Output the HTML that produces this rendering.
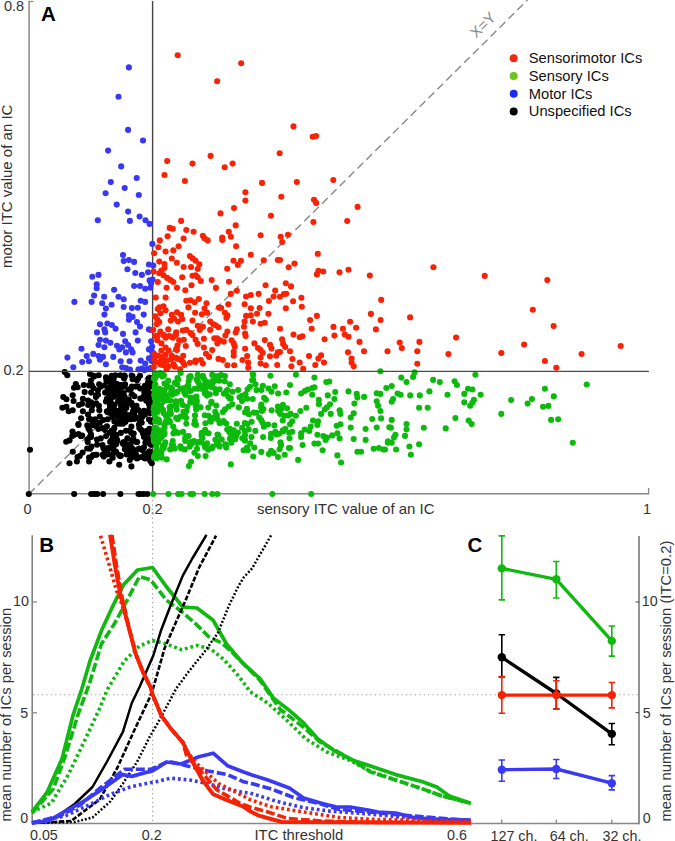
<!DOCTYPE html>
<html><head><meta charset="utf-8">
<style>
html,body{margin:0;padding:0;background:#fff;}
body{width:675px;height:841px;overflow:hidden;}
svg{display:block;font-family:"Liberation Sans",sans-serif;}
</style></head>
<body>
<svg width="675" height="841" viewBox="0 0 675 841">
<rect width="675" height="841" fill="#fff"/>
<g id="A-axes">
<line x1="29.1" y1="1.5" x2="29.1" y2="494" stroke="#888" stroke-width="1.5"/>
<line x1="28.4" y1="1.5" x2="33.5" y2="1.5" stroke="#888" stroke-width="1.3"/>
<line x1="28.4" y1="493.8" x2="648.6" y2="493.8" stroke="#888" stroke-width="1.5"/>
<line x1="648.6" y1="488" x2="648.6" y2="494.5" stroke="#888" stroke-width="1.3"/>
<line x1="29" y1="494" x2="527.5" y2="0" stroke="#888" stroke-width="1.4" stroke-dasharray="8,4.5"/>
</g>
<line x1="152.6" y1="1" x2="152.6" y2="494" stroke="#444" stroke-width="1.4"/>
<g id="scatter">
<g fill="#000"><circle cx="64.7" cy="372.1" r="3.05"/><circle cx="67.3" cy="375.2" r="3.05"/><circle cx="90.0" cy="373.9" r="3.05"/><circle cx="93.6" cy="375.7" r="3.05"/><circle cx="106.0" cy="377.4" r="3.05"/><circle cx="108.2" cy="379.7" r="3.05"/><circle cx="90.9" cy="380.6" r="3.05"/><circle cx="75.8" cy="384.1" r="3.05"/><circle cx="74.0" cy="387.7" r="3.05"/><circle cx="77.6" cy="387.2" r="3.05"/><circle cx="83.8" cy="385.0" r="3.05"/><circle cx="89.1" cy="385.4" r="3.05"/><circle cx="91.8" cy="385.4" r="3.05"/><circle cx="100.7" cy="386.8" r="3.05"/><circle cx="104.7" cy="385.4" r="3.05"/><circle cx="84.7" cy="392.1" r="3.05"/><circle cx="98.0" cy="394.8" r="3.05"/><circle cx="105.1" cy="392.6" r="3.05"/><circle cx="109.1" cy="394.3" r="3.05"/><circle cx="72.7" cy="395.2" r="3.05"/><circle cx="63.3" cy="397.0" r="3.05"/><circle cx="66.4" cy="399.2" r="3.05"/><circle cx="73.6" cy="401.0" r="3.05"/><circle cx="82.9" cy="398.8" r="3.05"/><circle cx="78.9" cy="405.0" r="3.05"/><circle cx="82.0" cy="403.7" r="3.05"/><circle cx="88.2" cy="405.0" r="3.05"/><circle cx="96.2" cy="403.2" r="3.05"/><circle cx="98.9" cy="405.9" r="3.05"/><circle cx="62.4" cy="407.7" r="3.05"/><circle cx="66.4" cy="406.8" r="3.05"/><circle cx="68.7" cy="411.2" r="3.05"/><circle cx="72.7" cy="410.3" r="3.05"/><circle cx="82.9" cy="411.2" r="3.05"/><circle cx="91.8" cy="410.3" r="3.05"/><circle cx="99.3" cy="410.3" r="3.05"/><circle cx="106.9" cy="411.2" r="3.05"/><circle cx="106.9" cy="398.8" r="3.05"/><circle cx="81.1" cy="418.3" r="3.05"/><circle cx="78.4" cy="424.1" r="3.05"/><circle cx="89.1" cy="419.2" r="3.05"/><circle cx="92.7" cy="421.9" r="3.05"/><circle cx="99.8" cy="416.6" r="3.05"/><circle cx="103.3" cy="420.1" r="3.05"/><circle cx="107.8" cy="419.2" r="3.05"/><circle cx="87.3" cy="425.4" r="3.05"/><circle cx="96.2" cy="426.3" r="3.05"/><circle cx="106.9" cy="426.3" r="3.05"/><circle cx="99.8" cy="422.8" r="3.05"/><circle cx="69.5" cy="463.2" r="3.05"/><circle cx="76.9" cy="461.5" r="3.05"/><circle cx="89.1" cy="461.5" r="3.05"/><circle cx="109.4" cy="461.5" r="3.05"/><circle cx="119.2" cy="464.8" r="3.05"/><circle cx="131.4" cy="466.4" r="3.05"/><circle cx="129.8" cy="459.9" r="3.05"/><circle cx="138.0" cy="457.5" r="3.05"/><circle cx="150.2" cy="460.7" r="3.05"/><circle cx="151.8" cy="463.2" r="3.05"/><circle cx="72.8" cy="451.8" r="3.05"/><circle cx="69.5" cy="440.4" r="3.05"/><circle cx="74.4" cy="434.7" r="3.05"/><circle cx="93.2" cy="455.0" r="3.05"/><circle cx="89.1" cy="457.5" r="3.05"/><circle cx="82.6" cy="452.6" r="3.05"/><circle cx="78.5" cy="424.9" r="3.05"/><circle cx="28.8" cy="494.0" r="3.05"/><circle cx="74.2" cy="494.0" r="3.05"/><circle cx="91.2" cy="494.0" r="3.05"/><circle cx="94.2" cy="494.0" r="3.05"/><circle cx="97.3" cy="494.0" r="3.05"/><circle cx="103.1" cy="494.0" r="3.05"/><circle cx="120.4" cy="494.0" r="3.05"/><circle cx="138.5" cy="494.0" r="3.05"/><circle cx="140.4" cy="494.0" r="3.05"/><circle cx="143.5" cy="494.0" r="3.05"/><circle cx="147.3" cy="494.0" r="3.05"/><circle cx="30.0" cy="449.8" r="3.05"/><circle cx="123.4" cy="386.8" r="3.05"/><circle cx="137.0" cy="380.2" r="3.05"/><circle cx="132.2" cy="405.1" r="3.05"/><circle cx="112.4" cy="417.1" r="3.05"/><circle cx="111.6" cy="410.9" r="3.05"/><circle cx="112.9" cy="381.7" r="3.05"/><circle cx="127.6" cy="444.3" r="3.05"/><circle cx="115.1" cy="393.0" r="3.05"/><circle cx="136.0" cy="454.6" r="3.05"/><circle cx="133.9" cy="407.7" r="3.05"/><circle cx="150.5" cy="378.0" r="3.05"/><circle cx="145.6" cy="398.6" r="3.05"/><circle cx="116.0" cy="384.0" r="3.05"/><circle cx="122.8" cy="443.4" r="3.05"/><circle cx="117.5" cy="423.4" r="3.05"/><circle cx="136.5" cy="405.7" r="3.05"/><circle cx="132.7" cy="379.3" r="3.05"/><circle cx="112.5" cy="391.5" r="3.05"/><circle cx="138.2" cy="410.3" r="3.05"/><circle cx="123.0" cy="423.8" r="3.05"/><circle cx="128.8" cy="399.5" r="3.05"/><circle cx="143.0" cy="433.4" r="3.05"/><circle cx="120.1" cy="422.8" r="3.05"/><circle cx="131.8" cy="448.4" r="3.05"/><circle cx="140.3" cy="398.5" r="3.05"/><circle cx="150.7" cy="384.0" r="3.05"/><circle cx="127.4" cy="438.4" r="3.05"/><circle cx="116.3" cy="415.6" r="3.05"/><circle cx="111.6" cy="430.8" r="3.05"/><circle cx="141.7" cy="422.7" r="3.05"/><circle cx="146.3" cy="400.7" r="3.05"/><circle cx="138.9" cy="424.5" r="3.05"/><circle cx="134.1" cy="412.8" r="3.05"/><circle cx="144.9" cy="454.3" r="3.05"/><circle cx="129.7" cy="430.5" r="3.05"/><circle cx="112.5" cy="433.6" r="3.05"/><circle cx="136.9" cy="458.4" r="3.05"/><circle cx="144.1" cy="398.2" r="3.05"/><circle cx="126.0" cy="430.8" r="3.05"/><circle cx="110.9" cy="413.2" r="3.05"/><circle cx="117.0" cy="384.0" r="3.05"/><circle cx="112.4" cy="439.3" r="3.05"/><circle cx="115.4" cy="395.0" r="3.05"/><circle cx="126.2" cy="448.1" r="3.05"/><circle cx="113.3" cy="412.2" r="3.05"/><circle cx="132.8" cy="449.1" r="3.05"/><circle cx="144.0" cy="447.4" r="3.05"/><circle cx="121.6" cy="409.3" r="3.05"/><circle cx="124.9" cy="449.2" r="3.05"/><circle cx="149.7" cy="386.8" r="3.05"/><circle cx="117.3" cy="393.7" r="3.05"/><circle cx="119.7" cy="415.2" r="3.05"/><circle cx="134.4" cy="396.3" r="3.05"/><circle cx="110.2" cy="409.6" r="3.05"/><circle cx="125.3" cy="422.1" r="3.05"/><circle cx="149.6" cy="432.7" r="3.05"/><circle cx="131.4" cy="426.5" r="3.05"/><circle cx="138.1" cy="378.6" r="3.05"/><circle cx="147.3" cy="440.3" r="3.05"/><circle cx="146.3" cy="441.8" r="3.05"/><circle cx="126.3" cy="407.9" r="3.05"/><circle cx="114.3" cy="427.9" r="3.05"/><circle cx="112.6" cy="379.7" r="3.05"/><circle cx="118.7" cy="387.8" r="3.05"/><circle cx="124.1" cy="378.5" r="3.05"/><circle cx="110.0" cy="386.9" r="3.05"/><circle cx="114.2" cy="404.9" r="3.05"/><circle cx="111.1" cy="448.3" r="3.05"/><circle cx="135.5" cy="386.6" r="3.05"/><circle cx="120.5" cy="403.5" r="3.05"/><circle cx="125.1" cy="384.4" r="3.05"/><circle cx="145.2" cy="458.4" r="3.05"/><circle cx="129.3" cy="415.1" r="3.05"/><circle cx="113.6" cy="382.7" r="3.05"/><circle cx="124.2" cy="396.5" r="3.05"/><circle cx="144.4" cy="387.7" r="3.05"/><circle cx="111.0" cy="454.8" r="3.05"/><circle cx="131.9" cy="386.5" r="3.05"/><circle cx="132.5" cy="376.3" r="3.05"/><circle cx="131.9" cy="457.2" r="3.05"/><circle cx="145.8" cy="433.2" r="3.05"/><circle cx="120.8" cy="405.2" r="3.05"/><circle cx="116.9" cy="439.6" r="3.05"/><circle cx="132.1" cy="440.2" r="3.05"/><circle cx="123.7" cy="393.0" r="3.05"/><circle cx="143.7" cy="457.7" r="3.05"/><circle cx="145.4" cy="442.5" r="3.05"/><circle cx="144.0" cy="436.9" r="3.05"/><circle cx="119.4" cy="418.0" r="3.05"/><circle cx="124.8" cy="376.5" r="3.05"/><circle cx="111.2" cy="397.8" r="3.05"/><circle cx="120.8" cy="432.9" r="3.05"/><circle cx="149.7" cy="412.0" r="3.05"/><circle cx="148.9" cy="458.0" r="3.05"/><circle cx="149.6" cy="405.0" r="3.05"/><circle cx="119.1" cy="393.3" r="3.05"/><circle cx="118.2" cy="391.4" r="3.05"/><circle cx="135.9" cy="450.5" r="3.05"/><circle cx="144.9" cy="414.8" r="3.05"/><circle cx="137.1" cy="442.0" r="3.05"/><circle cx="113.5" cy="430.1" r="3.05"/><circle cx="147.8" cy="440.5" r="3.05"/><circle cx="141.1" cy="414.6" r="3.05"/><circle cx="117.4" cy="441.1" r="3.05"/><circle cx="123.8" cy="442.1" r="3.05"/><circle cx="150.3" cy="407.6" r="3.05"/><circle cx="126.7" cy="454.5" r="3.05"/><circle cx="140.1" cy="388.5" r="3.05"/><circle cx="115.3" cy="386.8" r="3.05"/><circle cx="147.6" cy="442.6" r="3.05"/><circle cx="116.1" cy="444.3" r="3.05"/><circle cx="150.7" cy="429.9" r="3.05"/><circle cx="124.5" cy="420.6" r="3.05"/><circle cx="115.4" cy="375.2" r="3.05"/><circle cx="150.3" cy="429.2" r="3.05"/><circle cx="131.9" cy="453.4" r="3.05"/><circle cx="128.0" cy="448.1" r="3.05"/><circle cx="144.3" cy="391.9" r="3.05"/><circle cx="120.5" cy="398.9" r="3.05"/><circle cx="120.0" cy="423.8" r="3.05"/><circle cx="120.8" cy="409.6" r="3.05"/><circle cx="115.4" cy="451.4" r="3.05"/><circle cx="124.7" cy="412.9" r="3.05"/><circle cx="134.2" cy="450.9" r="3.05"/><circle cx="127.5" cy="452.0" r="3.05"/><circle cx="130.8" cy="419.2" r="3.05"/><circle cx="131.7" cy="375.6" r="3.05"/><circle cx="128.3" cy="389.6" r="3.05"/><circle cx="110.2" cy="441.9" r="3.05"/><circle cx="117.2" cy="414.2" r="3.05"/><circle cx="140.1" cy="421.3" r="3.05"/><circle cx="123.5" cy="418.1" r="3.05"/><circle cx="133.1" cy="440.7" r="3.05"/><circle cx="114.4" cy="421.6" r="3.05"/><circle cx="120.3" cy="397.5" r="3.05"/><circle cx="142.0" cy="417.2" r="3.05"/><circle cx="133.3" cy="438.6" r="3.05"/><circle cx="147.9" cy="411.7" r="3.05"/><circle cx="135.4" cy="417.0" r="3.05"/><circle cx="131.3" cy="432.9" r="3.05"/><circle cx="128.8" cy="419.3" r="3.05"/><circle cx="129.8" cy="454.0" r="3.05"/><circle cx="139.0" cy="448.5" r="3.05"/><circle cx="149.1" cy="396.1" r="3.05"/><circle cx="133.2" cy="454.2" r="3.05"/><circle cx="144.9" cy="385.7" r="3.05"/><circle cx="115.0" cy="411.6" r="3.05"/><circle cx="113.0" cy="394.5" r="3.05"/><circle cx="113.0" cy="430.9" r="3.05"/><circle cx="142.5" cy="450.2" r="3.05"/><circle cx="116.4" cy="434.9" r="3.05"/><circle cx="137.4" cy="386.2" r="3.05"/><circle cx="146.6" cy="456.2" r="3.05"/><circle cx="119.1" cy="455.0" r="3.05"/><circle cx="126.5" cy="415.4" r="3.05"/><circle cx="151.1" cy="444.8" r="3.05"/><circle cx="116.7" cy="410.7" r="3.05"/><circle cx="131.4" cy="402.8" r="3.05"/><circle cx="118.1" cy="401.1" r="3.05"/><circle cx="140.0" cy="375.7" r="3.05"/><circle cx="133.0" cy="411.4" r="3.05"/><circle cx="110.8" cy="402.2" r="3.05"/><circle cx="135.9" cy="417.5" r="3.05"/><circle cx="112.7" cy="457.7" r="3.05"/><circle cx="142.7" cy="456.6" r="3.05"/><circle cx="114.3" cy="396.6" r="3.05"/><circle cx="111.6" cy="440.2" r="3.05"/><circle cx="121.2" cy="385.0" r="3.05"/><circle cx="127.5" cy="451.5" r="3.05"/><circle cx="144.0" cy="396.0" r="3.05"/><circle cx="116.2" cy="452.1" r="3.05"/><circle cx="133.7" cy="433.5" r="3.05"/><circle cx="113.7" cy="378.9" r="3.05"/><circle cx="138.6" cy="410.2" r="3.05"/><circle cx="113.0" cy="453.8" r="3.05"/><circle cx="136.3" cy="442.1" r="3.05"/><circle cx="113.5" cy="446.8" r="3.05"/><circle cx="112.8" cy="447.3" r="3.05"/><circle cx="128.8" cy="402.8" r="3.05"/><circle cx="133.0" cy="452.8" r="3.05"/><circle cx="121.1" cy="385.0" r="3.05"/><circle cx="131.9" cy="394.3" r="3.05"/><circle cx="114.5" cy="387.7" r="3.05"/><circle cx="112.1" cy="391.2" r="3.05"/><circle cx="122.9" cy="399.9" r="3.05"/><circle cx="141.5" cy="398.6" r="3.05"/><circle cx="130.8" cy="389.1" r="3.05"/><circle cx="124.4" cy="375.5" r="3.05"/><circle cx="120.4" cy="375.3" r="3.05"/><circle cx="140.4" cy="420.8" r="3.05"/><circle cx="117.9" cy="414.4" r="3.05"/><circle cx="148.8" cy="383.0" r="3.05"/><circle cx="144.0" cy="410.7" r="3.05"/><circle cx="130.5" cy="444.9" r="3.05"/><circle cx="126.3" cy="417.1" r="3.05"/><circle cx="138.5" cy="457.5" r="3.05"/><circle cx="124.2" cy="444.7" r="3.05"/><circle cx="139.3" cy="428.1" r="3.05"/><circle cx="126.8" cy="403.5" r="3.05"/><circle cx="112.3" cy="385.0" r="3.05"/><circle cx="112.9" cy="437.0" r="3.05"/><circle cx="120.6" cy="387.9" r="3.05"/><circle cx="113.5" cy="445.5" r="3.05"/><circle cx="146.1" cy="431.0" r="3.05"/><circle cx="121.7" cy="394.6" r="3.05"/><circle cx="122.2" cy="413.1" r="3.05"/><circle cx="116.5" cy="411.9" r="3.05"/><circle cx="120.9" cy="455.8" r="3.05"/><circle cx="150.4" cy="420.5" r="3.05"/><circle cx="120.1" cy="456.1" r="3.05"/><circle cx="122.8" cy="404.3" r="3.05"/><circle cx="110.0" cy="406.4" r="3.05"/><circle cx="129.7" cy="416.7" r="3.05"/><circle cx="118.3" cy="416.9" r="3.05"/><circle cx="110.2" cy="396.5" r="3.05"/><circle cx="113.7" cy="408.0" r="3.05"/><circle cx="111.7" cy="375.9" r="3.05"/><circle cx="122.6" cy="393.8" r="3.05"/><circle cx="134.3" cy="419.0" r="3.05"/><circle cx="141.1" cy="429.9" r="3.05"/><circle cx="139.7" cy="448.7" r="3.05"/><circle cx="100.8" cy="438.4" r="3.05"/><circle cx="109.8" cy="432.8" r="3.05"/><circle cx="105.9" cy="448.6" r="3.05"/><circle cx="95.7" cy="454.7" r="3.05"/><circle cx="108.4" cy="448.1" r="3.05"/><circle cx="106.0" cy="454.0" r="3.05"/><circle cx="97.1" cy="444.8" r="3.05"/><circle cx="102.6" cy="454.7" r="3.05"/><circle cx="107.1" cy="454.4" r="3.05"/><circle cx="103.8" cy="456.6" r="3.05"/><circle cx="105.2" cy="450.2" r="3.05"/><circle cx="98.4" cy="429.0" r="3.05"/><circle cx="97.0" cy="439.5" r="3.05"/><circle cx="96.6" cy="454.7" r="3.05"/><circle cx="103.4" cy="448.1" r="3.05"/><circle cx="104.4" cy="449.8" r="3.05"/><circle cx="102.3" cy="428.1" r="3.05"/><circle cx="107.0" cy="451.9" r="3.05"/><circle cx="102.5" cy="445.1" r="3.05"/><circle cx="104.9" cy="430.1" r="3.05"/><circle cx="106.1" cy="436.1" r="3.05"/><circle cx="81.1" cy="436.0" r="3.05"/><circle cx="90.9" cy="434.2" r="3.05"/><circle cx="91.1" cy="457.3" r="3.05"/><circle cx="87.4" cy="439.5" r="3.05"/><circle cx="87.2" cy="448.5" r="3.05"/><circle cx="91.5" cy="446.5" r="3.05"/><circle cx="89.6" cy="430.3" r="3.05"/><circle cx="82.2" cy="435.6" r="3.05"/><circle cx="91.1" cy="437.1" r="3.05"/><circle cx="88.5" cy="428.4" r="3.05"/><circle cx="80.9" cy="436.1" r="3.05"/><circle cx="90.1" cy="448.8" r="3.05"/><circle cx="90.1" cy="436.7" r="3.05"/><circle cx="87.7" cy="441.9" r="3.05"/><circle cx="72.5" cy="431.6" r="3.05"/><circle cx="78.5" cy="434.0" r="3.05"/><circle cx="79.7" cy="456.1" r="3.05"/><circle cx="66.2" cy="441.8" r="3.05"/><circle cx="77.5" cy="457.0" r="3.05"/><circle cx="72.3" cy="436.1" r="3.05"/><circle cx="92.6" cy="425.1" r="3.05"/><circle cx="92.6" cy="405.4" r="3.05"/><circle cx="91.1" cy="402.3" r="3.05"/><circle cx="109.0" cy="381.2" r="3.05"/><circle cx="106.0" cy="401.5" r="3.05"/><circle cx="107.5" cy="412.0" r="3.05"/><circle cx="93.1" cy="422.5" r="3.05"/><circle cx="98.7" cy="375.3" r="3.05"/><circle cx="88.1" cy="400.6" r="3.05"/><circle cx="97.9" cy="390.3" r="3.05"/><circle cx="91.1" cy="392.6" r="3.05"/><circle cx="95.0" cy="419.4" r="3.05"/><circle cx="88.0" cy="414.5" r="3.05"/><circle cx="106.5" cy="380.5" r="3.05"/><circle cx="108.4" cy="412.5" r="3.05"/><circle cx="107.8" cy="389.7" r="3.05"/><circle cx="96.2" cy="395.2" r="3.05"/><circle cx="110.0" cy="405.8" r="3.05"/><circle cx="95.9" cy="397.1" r="3.05"/><circle cx="94.1" cy="376.6" r="3.05"/><circle cx="90.2" cy="419.1" r="3.05"/><circle cx="94.3" cy="424.5" r="3.05"/><circle cx="93.5" cy="388.3" r="3.05"/><circle cx="99.2" cy="384.3" r="3.05"/><circle cx="148.9" cy="457.2" r="3.05"/><circle cx="150.8" cy="444.6" r="3.05"/><circle cx="149.8" cy="453.5" r="3.05"/><circle cx="151.0" cy="421.8" r="3.05"/><circle cx="150.2" cy="378.3" r="3.05"/><circle cx="150.2" cy="413.2" r="3.05"/><circle cx="150.3" cy="430.1" r="3.05"/><circle cx="148.6" cy="378.3" r="3.05"/><circle cx="150.9" cy="385.1" r="3.05"/><circle cx="149.2" cy="403.9" r="3.05"/><circle cx="148.6" cy="438.3" r="3.05"/><circle cx="151.1" cy="396.6" r="3.05"/><circle cx="149.9" cy="400.2" r="3.05"/><circle cx="149.6" cy="408.3" r="3.05"/><circle cx="148.1" cy="388.1" r="3.05"/><circle cx="148.3" cy="452.8" r="3.05"/><circle cx="149.3" cy="393.1" r="3.05"/><circle cx="150.9" cy="460.7" r="3.05"/><circle cx="149.2" cy="386.1" r="3.05"/><circle cx="148.2" cy="381.9" r="3.05"/><circle cx="148.8" cy="381.9" r="3.05"/><circle cx="148.4" cy="396.5" r="3.05"/><circle cx="149.6" cy="451.2" r="3.05"/><circle cx="150.3" cy="409.9" r="3.05"/><circle cx="149.0" cy="419.6" r="3.05"/><circle cx="148.9" cy="403.4" r="3.05"/><circle cx="147.7" cy="398.1" r="3.05"/><circle cx="151.1" cy="385.0" r="3.05"/><circle cx="149.4" cy="428.8" r="3.05"/></g>
<g fill="#3838f4"><circle cx="128.9" cy="67.4" r="3.05"/><circle cx="118.5" cy="96.7" r="3.05"/><circle cx="128.1" cy="129.9" r="3.05"/><circle cx="143.0" cy="140.5" r="3.05"/><circle cx="108.1" cy="150.6" r="3.05"/><circle cx="121.2" cy="166.4" r="3.05"/><circle cx="136.7" cy="178.0" r="3.05"/><circle cx="110.8" cy="182.1" r="3.05"/><circle cx="124.7" cy="188.0" r="3.05"/><circle cx="105.6" cy="193.2" r="3.05"/><circle cx="138.8" cy="195.0" r="3.05"/><circle cx="116.7" cy="204.6" r="3.05"/><circle cx="128.1" cy="211.6" r="3.05"/><circle cx="97.8" cy="220.2" r="3.05"/><circle cx="129.9" cy="220.9" r="3.05"/><circle cx="139.6" cy="216.5" r="3.05"/><circle cx="145.5" cy="220.2" r="3.05"/><circle cx="149.6" cy="223.9" r="3.05"/><circle cx="152.3" cy="243.9" r="3.05"/><circle cx="123.0" cy="255.0" r="3.05"/><circle cx="123.7" cy="261.1" r="3.05"/><circle cx="128.9" cy="260.1" r="3.05"/><circle cx="134.1" cy="261.9" r="3.05"/><circle cx="148.9" cy="264.5" r="3.05"/><circle cx="153.3" cy="265.6" r="3.05"/><circle cx="127.4" cy="269.3" r="3.05"/><circle cx="135.3" cy="273.0" r="3.05"/><circle cx="141.9" cy="274.9" r="3.05"/><circle cx="148.1" cy="272.2" r="3.05"/><circle cx="92.3" cy="276.7" r="3.05"/><circle cx="98.5" cy="274.9" r="3.05"/><circle cx="149.6" cy="280.4" r="3.05"/><circle cx="152.6" cy="279.6" r="3.05"/><circle cx="151.1" cy="283.3" r="3.05"/><circle cx="96.7" cy="284.4" r="3.05"/><circle cx="96.7" cy="288.2" r="3.05"/><circle cx="134.1" cy="286.0" r="3.05"/><circle cx="140.0" cy="286.0" r="3.05"/><circle cx="145.2" cy="288.8" r="3.05"/><circle cx="150.4" cy="287.8" r="3.05"/><circle cx="114.1" cy="289.7" r="3.05"/><circle cx="94.1" cy="295.6" r="3.05"/><circle cx="104.1" cy="296.7" r="3.05"/><circle cx="118.5" cy="296.7" r="3.05"/><circle cx="123.7" cy="299.2" r="3.05"/><circle cx="74.4" cy="301.9" r="3.05"/><circle cx="91.6" cy="301.9" r="3.05"/><circle cx="102.2" cy="303.3" r="3.05"/><circle cx="111.6" cy="304.8" r="3.05"/><circle cx="140.7" cy="300.7" r="3.05"/><circle cx="145.2" cy="301.9" r="3.05"/><circle cx="123.7" cy="307.0" r="3.05"/><circle cx="131.9" cy="308.1" r="3.05"/><circle cx="137.8" cy="307.8" r="3.05"/><circle cx="105.9" cy="308.5" r="3.05"/><circle cx="104.4" cy="314.6" r="3.05"/><circle cx="128.9" cy="315.4" r="3.05"/><circle cx="132.6" cy="316.9" r="3.05"/><circle cx="143.7" cy="314.6" r="3.05"/><circle cx="128.9" cy="319.8" r="3.05"/><circle cx="137.0" cy="322.0" r="3.05"/><circle cx="140.0" cy="326.5" r="3.05"/><circle cx="100.0" cy="324.3" r="3.05"/><circle cx="107.4" cy="323.5" r="3.05"/><circle cx="111.9" cy="325.0" r="3.05"/><circle cx="115.6" cy="328.7" r="3.05"/><circle cx="104.4" cy="329.4" r="3.05"/><circle cx="105.2" cy="332.4" r="3.05"/><circle cx="97.0" cy="332.4" r="3.05"/><circle cx="135.6" cy="332.4" r="3.05"/><circle cx="148.9" cy="329.4" r="3.05"/><circle cx="123.0" cy="333.9" r="3.05"/><circle cx="100.0" cy="339.8" r="3.05"/><circle cx="105.9" cy="340.6" r="3.05"/><circle cx="110.4" cy="342.8" r="3.05"/><circle cx="98.5" cy="345.0" r="3.05"/><circle cx="104.4" cy="347.2" r="3.05"/><circle cx="137.8" cy="340.6" r="3.05"/><circle cx="125.2" cy="341.3" r="3.05"/><circle cx="151.1" cy="341.3" r="3.05"/><circle cx="117.0" cy="345.7" r="3.05"/><circle cx="122.2" cy="347.2" r="3.05"/><circle cx="128.1" cy="345.0" r="3.05"/><circle cx="131.1" cy="349.4" r="3.05"/><circle cx="119.3" cy="349.4" r="3.05"/><circle cx="125.9" cy="352.4" r="3.05"/><circle cx="132.6" cy="352.4" r="3.05"/><circle cx="81.5" cy="348.7" r="3.05"/><circle cx="148.9" cy="349.4" r="3.05"/><circle cx="67.4" cy="357.6" r="3.05"/><circle cx="86.7" cy="356.1" r="3.05"/><circle cx="93.3" cy="353.9" r="3.05"/><circle cx="98.5" cy="356.1" r="3.05"/><circle cx="103.0" cy="356.9" r="3.05"/><circle cx="100.0" cy="359.8" r="3.05"/><circle cx="113.3" cy="356.9" r="3.05"/><circle cx="82.2" cy="362.0" r="3.05"/><circle cx="88.9" cy="361.3" r="3.05"/><circle cx="105.9" cy="364.3" r="3.05"/><circle cx="120.7" cy="361.3" r="3.05"/><circle cx="129.6" cy="361.3" r="3.05"/><circle cx="140.7" cy="360.6" r="3.05"/><circle cx="148.9" cy="358.3" r="3.05"/><circle cx="73.3" cy="367.2" r="3.05"/><circle cx="122.2" cy="367.2" r="3.05"/><circle cx="138.5" cy="369.4" r="3.05"/><circle cx="144.4" cy="370.2" r="3.05"/><circle cx="150.4" cy="368.0" r="3.05"/><circle cx="145.2" cy="363.5" r="3.05"/><circle cx="151.0" cy="330.0" r="3.05"/><circle cx="152.1" cy="346.5" r="3.05"/><circle cx="152.1" cy="351.7" r="3.05"/><circle cx="152.1" cy="356.9" r="3.05"/><circle cx="151.6" cy="361.0" r="3.05"/><circle cx="126.0" cy="368.0" r="3.05"/><circle cx="142.0" cy="368.5" r="3.05"/><circle cx="147.0" cy="369.0" r="3.05"/><circle cx="130.0" cy="369.5" r="3.05"/></g>
<g fill="#f82204"><circle cx="177.7" cy="55.2" r="3.05"/><circle cx="217.2" cy="81.3" r="3.05"/><circle cx="241.2" cy="63.2" r="3.05"/><circle cx="293.5" cy="126.4" r="3.05"/><circle cx="312.7" cy="136.8" r="3.05"/><circle cx="316.1" cy="136.0" r="3.05"/><circle cx="167.2" cy="161.1" r="3.05"/><circle cx="210.6" cy="155.9" r="3.05"/><circle cx="192.5" cy="163.6" r="3.05"/><circle cx="224.7" cy="167.3" r="3.05"/><circle cx="232.6" cy="163.6" r="3.05"/><circle cx="279.7" cy="153.2" r="3.05"/><circle cx="164.5" cy="175.0" r="3.05"/><circle cx="184.9" cy="181.0" r="3.05"/><circle cx="262.0" cy="182.9" r="3.05"/><circle cx="245.4" cy="192.2" r="3.05"/><circle cx="281.3" cy="196.8" r="3.05"/><circle cx="245.4" cy="200.5" r="3.05"/><circle cx="234.0" cy="208.0" r="3.05"/><circle cx="220.5" cy="213.4" r="3.05"/><circle cx="271.0" cy="215.7" r="3.05"/><circle cx="181.1" cy="220.9" r="3.05"/><circle cx="235.7" cy="225.4" r="3.05"/><circle cx="169.7" cy="227.9" r="3.05"/><circle cx="172.8" cy="228.8" r="3.05"/><circle cx="186.3" cy="230.0" r="3.05"/><circle cx="193.6" cy="231.7" r="3.05"/><circle cx="228.8" cy="231.7" r="3.05"/><circle cx="167.6" cy="236.2" r="3.05"/><circle cx="202.9" cy="235.8" r="3.05"/><circle cx="230.9" cy="236.8" r="3.05"/><circle cx="260.6" cy="235.2" r="3.05"/><circle cx="280.7" cy="236.8" r="3.05"/><circle cx="288.0" cy="234.8" r="3.05"/><circle cx="183.6" cy="238.5" r="3.05"/><circle cx="204.4" cy="238.3" r="3.05"/><circle cx="207.7" cy="240.4" r="3.05"/><circle cx="222.2" cy="237.5" r="3.05"/><circle cx="159.8" cy="240.4" r="3.05"/><circle cx="282.2" cy="242.0" r="3.05"/><circle cx="178.6" cy="246.2" r="3.05"/><circle cx="236.1" cy="246.2" r="3.05"/><circle cx="158.3" cy="247.2" r="3.05"/><circle cx="296.8" cy="182.0" r="3.05"/><circle cx="333.3" cy="180.1" r="3.05"/><circle cx="314.0" cy="199.8" r="3.05"/><circle cx="316.1" cy="202.9" r="3.05"/><circle cx="357.6" cy="206.9" r="3.05"/><circle cx="313.4" cy="222.0" r="3.05"/><circle cx="347.2" cy="221.0" r="3.05"/><circle cx="317.8" cy="253.8" r="3.05"/><circle cx="294.5" cy="263.6" r="3.05"/><circle cx="288.7" cy="267.3" r="3.05"/><circle cx="280.0" cy="260.0" r="3.05"/><circle cx="318.4" cy="270.8" r="3.05"/><circle cx="323.2" cy="271.5" r="3.05"/><circle cx="316.9" cy="274.4" r="3.05"/><circle cx="339.5" cy="272.3" r="3.05"/><circle cx="348.5" cy="269.8" r="3.05"/><circle cx="369.8" cy="275.6" r="3.05"/><circle cx="285.8" cy="283.3" r="3.05"/><circle cx="291.0" cy="286.4" r="3.05"/><circle cx="286.2" cy="293.7" r="3.05"/><circle cx="280.0" cy="296.8" r="3.05"/><circle cx="293.1" cy="301.3" r="3.05"/><circle cx="301.4" cy="297.8" r="3.05"/><circle cx="381.2" cy="299.9" r="3.05"/><circle cx="285.8" cy="308.2" r="3.05"/><circle cx="301.8" cy="306.7" r="3.05"/><circle cx="316.9" cy="315.9" r="3.05"/><circle cx="310.1" cy="320.1" r="3.05"/><circle cx="370.9" cy="313.9" r="3.05"/><circle cx="380.6" cy="320.1" r="3.05"/><circle cx="410.1" cy="317.4" r="3.05"/><circle cx="311.7" cy="328.8" r="3.05"/><circle cx="333.5" cy="326.9" r="3.05"/><circle cx="350.1" cy="321.7" r="3.05"/><circle cx="342.9" cy="328.8" r="3.05"/><circle cx="356.1" cy="327.8" r="3.05"/><circle cx="375.9" cy="329.4" r="3.05"/><circle cx="280.0" cy="328.8" r="3.05"/><circle cx="293.5" cy="334.6" r="3.05"/><circle cx="299.7" cy="337.3" r="3.05"/><circle cx="302.4" cy="336.3" r="3.05"/><circle cx="334.4" cy="335.6" r="3.05"/><circle cx="344.7" cy="334.6" r="3.05"/><circle cx="348.5" cy="336.7" r="3.05"/><circle cx="324.6" cy="339.2" r="3.05"/><circle cx="282.1" cy="339.4" r="3.05"/><circle cx="283.1" cy="343.9" r="3.05"/><circle cx="285.2" cy="347.1" r="3.05"/><circle cx="359.5" cy="341.9" r="3.05"/><circle cx="399.7" cy="342.5" r="3.05"/><circle cx="401.8" cy="348.1" r="3.05"/><circle cx="419.4" cy="341.9" r="3.05"/><circle cx="290.0" cy="351.2" r="3.05"/><circle cx="348.0" cy="352.2" r="3.05"/><circle cx="364.0" cy="351.2" r="3.05"/><circle cx="387.5" cy="351.2" r="3.05"/><circle cx="417.3" cy="351.2" r="3.05"/><circle cx="309.0" cy="356.0" r="3.05"/><circle cx="321.1" cy="355.4" r="3.05"/><circle cx="318.4" cy="358.5" r="3.05"/><circle cx="351.6" cy="358.5" r="3.05"/><circle cx="292.4" cy="359.1" r="3.05"/><circle cx="299.7" cy="362.6" r="3.05"/><circle cx="324.0" cy="362.6" r="3.05"/><circle cx="351.6" cy="362.6" r="3.05"/><circle cx="315.3" cy="365.1" r="3.05"/><circle cx="353.7" cy="366.3" r="3.05"/><circle cx="291.4" cy="366.3" r="3.05"/><circle cx="303.2" cy="368.8" r="3.05"/><circle cx="417.3" cy="363.7" r="3.05"/><circle cx="280.0" cy="352.0" r="3.05"/><circle cx="433.4" cy="267.2" r="3.05"/><circle cx="484.7" cy="275.9" r="3.05"/><circle cx="547.3" cy="280.1" r="3.05"/><circle cx="532.8" cy="309.8" r="3.05"/><circle cx="456.1" cy="337.6" r="3.05"/><circle cx="448.4" cy="354.1" r="3.05"/><circle cx="501.3" cy="353.1" r="3.05"/><circle cx="524.1" cy="344.6" r="3.05"/><circle cx="544.9" cy="361.0" r="3.05"/><circle cx="553.6" cy="326.1" r="3.05"/><circle cx="620.7" cy="346.0" r="3.05"/><circle cx="581.6" cy="354.0" r="3.05"/><circle cx="556.3" cy="367.7" r="3.05"/><circle cx="173.3" cy="250.4" r="3.05"/><circle cx="165.6" cy="251.6" r="3.05"/><circle cx="154.1" cy="253.3" r="3.05"/><circle cx="189.9" cy="256.1" r="3.05"/><circle cx="192.5" cy="258.2" r="3.05"/><circle cx="195.6" cy="260.7" r="3.05"/><circle cx="199.3" cy="264.4" r="3.05"/><circle cx="171.8" cy="258.5" r="3.05"/><circle cx="176.8" cy="262.8" r="3.05"/><circle cx="159.3" cy="261.6" r="3.05"/><circle cx="164.5" cy="264.1" r="3.05"/><circle cx="183.7" cy="267.0" r="3.05"/><circle cx="191.0" cy="267.0" r="3.05"/><circle cx="197.7" cy="269.0" r="3.05"/><circle cx="164.5" cy="268.0" r="3.05"/><circle cx="161.4" cy="270.6" r="3.05"/><circle cx="153.6" cy="271.6" r="3.05"/><circle cx="159.3" cy="273.2" r="3.05"/><circle cx="163.5" cy="275.3" r="3.05"/><circle cx="167.1" cy="277.9" r="3.05"/><circle cx="170.2" cy="279.9" r="3.05"/><circle cx="173.3" cy="282.0" r="3.05"/><circle cx="182.2" cy="277.3" r="3.05"/><circle cx="192.5" cy="275.8" r="3.05"/><circle cx="195.6" cy="275.3" r="3.05"/><circle cx="197.7" cy="277.3" r="3.05"/><circle cx="200.8" cy="281.0" r="3.05"/><circle cx="211.7" cy="280.0" r="3.05"/><circle cx="157.8" cy="282.0" r="3.05"/><circle cx="166.6" cy="287.7" r="3.05"/><circle cx="177.0" cy="287.7" r="3.05"/><circle cx="185.3" cy="290.3" r="3.05"/><circle cx="191.5" cy="285.3" r="3.05"/><circle cx="215.9" cy="287.9" r="3.05"/><circle cx="155.7" cy="297.6" r="3.05"/><circle cx="165.6" cy="297.6" r="3.05"/><circle cx="186.3" cy="300.7" r="3.05"/><circle cx="190.5" cy="300.2" r="3.05"/><circle cx="194.6" cy="302.2" r="3.05"/><circle cx="198.8" cy="299.1" r="3.05"/><circle cx="206.5" cy="303.3" r="3.05"/><circle cx="159.3" cy="307.4" r="3.05"/><circle cx="163.5" cy="306.4" r="3.05"/><circle cx="188.4" cy="307.4" r="3.05"/><circle cx="204.5" cy="308.5" r="3.05"/><circle cx="250.8" cy="254.8" r="3.05"/><circle cx="233.5" cy="260.7" r="3.05"/><circle cx="240.9" cy="260.7" r="3.05"/><circle cx="237.8" cy="264.9" r="3.05"/><circle cx="227.2" cy="268.8" r="3.05"/><circle cx="263.8" cy="260.2" r="3.05"/><circle cx="277.8" cy="260.0" r="3.05"/><circle cx="229.0" cy="281.8" r="3.05"/><circle cx="236.8" cy="290.8" r="3.05"/><circle cx="230.8" cy="293.9" r="3.05"/><circle cx="265.6" cy="285.3" r="3.05"/><circle cx="275.2" cy="290.5" r="3.05"/><circle cx="258.6" cy="293.9" r="3.05"/><circle cx="246.1" cy="296.5" r="3.05"/><circle cx="250.8" cy="295.0" r="3.05"/><circle cx="273.6" cy="296.5" r="3.05"/><circle cx="268.9" cy="301.0" r="3.05"/><circle cx="228.3" cy="304.3" r="3.05"/><circle cx="244.6" cy="304.3" r="3.05"/><circle cx="221.2" cy="308.0" r="3.05"/><circle cx="250.8" cy="308.3" r="3.05"/><circle cx="259.6" cy="308.0" r="3.05"/><circle cx="284.0" cy="294.0" r="3.05"/><circle cx="222.3" cy="240.0" r="3.05"/><circle cx="157.8" cy="309.1" r="3.05"/><circle cx="165.6" cy="310.2" r="3.05"/><circle cx="160.4" cy="313.3" r="3.05"/><circle cx="171.8" cy="314.9" r="3.05"/><circle cx="177.0" cy="312.3" r="3.05"/><circle cx="181.1" cy="314.9" r="3.05"/><circle cx="173.9" cy="318.5" r="3.05"/><circle cx="182.2" cy="319.0" r="3.05"/><circle cx="170.7" cy="320.6" r="3.05"/><circle cx="178.0" cy="321.6" r="3.05"/><circle cx="155.2" cy="316.4" r="3.05"/><circle cx="157.3" cy="319.5" r="3.05"/><circle cx="159.3" cy="322.1" r="3.05"/><circle cx="156.7" cy="324.2" r="3.05"/><circle cx="195.1" cy="312.8" r="3.05"/><circle cx="201.9" cy="314.3" r="3.05"/><circle cx="207.1" cy="312.8" r="3.05"/><circle cx="219.0" cy="307.6" r="3.05"/><circle cx="192.5" cy="320.6" r="3.05"/><circle cx="210.2" cy="321.6" r="3.05"/><circle cx="213.3" cy="324.2" r="3.05"/><circle cx="197.7" cy="325.7" r="3.05"/><circle cx="202.9" cy="326.8" r="3.05"/><circle cx="199.8" cy="329.9" r="3.05"/><circle cx="210.2" cy="329.9" r="3.05"/><circle cx="218.5" cy="327.3" r="3.05"/><circle cx="153.1" cy="329.9" r="3.05"/><circle cx="160.4" cy="331.5" r="3.05"/><circle cx="168.2" cy="329.4" r="3.05"/><circle cx="186.3" cy="329.9" r="3.05"/><circle cx="190.5" cy="333.0" r="3.05"/><circle cx="192.5" cy="335.1" r="3.05"/><circle cx="175.9" cy="335.1" r="3.05"/><circle cx="172.8" cy="337.7" r="3.05"/><circle cx="163.5" cy="335.1" r="3.05"/><circle cx="165.6" cy="337.7" r="3.05"/><circle cx="155.2" cy="336.1" r="3.05"/><circle cx="157.3" cy="340.3" r="3.05"/><circle cx="161.4" cy="343.4" r="3.05"/><circle cx="195.6" cy="339.8" r="3.05"/><circle cx="197.7" cy="343.9" r="3.05"/><circle cx="203.9" cy="338.7" r="3.05"/><circle cx="214.3" cy="338.2" r="3.05"/><circle cx="217.4" cy="343.4" r="3.05"/><circle cx="177.5" cy="345.5" r="3.05"/><circle cx="185.8" cy="346.0" r="3.05"/><circle cx="203.9" cy="347.5" r="3.05"/><circle cx="212.2" cy="350.1" r="3.05"/><circle cx="177.0" cy="350.1" r="3.05"/><circle cx="165.6" cy="347.5" r="3.05"/><circle cx="161.4" cy="350.6" r="3.05"/><circle cx="168.7" cy="350.6" r="3.05"/><circle cx="154.1" cy="353.8" r="3.05"/><circle cx="158.3" cy="355.8" r="3.05"/><circle cx="165.6" cy="354.8" r="3.05"/><circle cx="171.8" cy="355.8" r="3.05"/><circle cx="175.9" cy="357.9" r="3.05"/><circle cx="183.2" cy="355.8" r="3.05"/><circle cx="206.0" cy="353.8" r="3.05"/><circle cx="209.1" cy="356.9" r="3.05"/><circle cx="161.4" cy="360.0" r="3.05"/><circle cx="166.6" cy="361.0" r="3.05"/><circle cx="170.7" cy="359.5" r="3.05"/><circle cx="181.1" cy="360.0" r="3.05"/><circle cx="183.2" cy="362.6" r="3.05"/><circle cx="195.6" cy="362.1" r="3.05"/><circle cx="200.8" cy="360.0" r="3.05"/><circle cx="202.9" cy="363.6" r="3.05"/><circle cx="163.5" cy="365.2" r="3.05"/><circle cx="168.7" cy="366.2" r="3.05"/><circle cx="174.9" cy="366.7" r="3.05"/><circle cx="180.1" cy="369.3" r="3.05"/><circle cx="166.6" cy="369.3" r="3.05"/><circle cx="218.5" cy="358.9" r="3.05"/><circle cx="154.1" cy="359.0" r="3.05"/><circle cx="224.9" cy="312.8" r="3.05"/><circle cx="227.4" cy="315.4" r="3.05"/><circle cx="226.4" cy="318.0" r="3.05"/><circle cx="246.1" cy="315.9" r="3.05"/><circle cx="250.8" cy="315.4" r="3.05"/><circle cx="257.0" cy="313.8" r="3.05"/><circle cx="268.4" cy="313.8" r="3.05"/><circle cx="244.6" cy="321.6" r="3.05"/><circle cx="252.9" cy="321.6" r="3.05"/><circle cx="260.6" cy="323.7" r="3.05"/><circle cx="264.8" cy="322.8" r="3.05"/><circle cx="215.5" cy="325.2" r="3.05"/><circle cx="244.0" cy="326.8" r="3.05"/><circle cx="236.8" cy="329.4" r="3.05"/><circle cx="227.4" cy="331.5" r="3.05"/><circle cx="235.7" cy="332.5" r="3.05"/><circle cx="245.1" cy="333.5" r="3.05"/><circle cx="245.6" cy="336.1" r="3.05"/><circle cx="225.4" cy="335.6" r="3.05"/><circle cx="217.1" cy="338.2" r="3.05"/><circle cx="220.2" cy="340.3" r="3.05"/><circle cx="223.8" cy="341.8" r="3.05"/><circle cx="231.6" cy="340.3" r="3.05"/><circle cx="233.7" cy="343.4" r="3.05"/><circle cx="264.8" cy="340.1" r="3.05"/><circle cx="254.4" cy="343.4" r="3.05"/><circle cx="270.0" cy="344.9" r="3.05"/><circle cx="271.5" cy="348.6" r="3.05"/><circle cx="234.7" cy="346.5" r="3.05"/><circle cx="245.1" cy="348.8" r="3.05"/><circle cx="258.0" cy="348.0" r="3.05"/><circle cx="260.6" cy="350.1" r="3.05"/><circle cx="262.7" cy="352.7" r="3.05"/><circle cx="233.7" cy="351.7" r="3.05"/><circle cx="233.7" cy="355.8" r="3.05"/><circle cx="277.8" cy="352.2" r="3.05"/><circle cx="276.2" cy="355.8" r="3.05"/><circle cx="270.0" cy="356.3" r="3.05"/><circle cx="247.2" cy="356.0" r="3.05"/><circle cx="242.5" cy="360.0" r="3.05"/><circle cx="260.6" cy="357.4" r="3.05"/><circle cx="222.8" cy="360.0" r="3.05"/><circle cx="248.2" cy="362.6" r="3.05"/><circle cx="227.4" cy="365.2" r="3.05"/><circle cx="234.2" cy="365.2" r="3.05"/><circle cx="260.6" cy="363.6" r="3.05"/><circle cx="265.8" cy="365.2" r="3.05"/><circle cx="277.2" cy="365.0" r="3.05"/><circle cx="248.2" cy="367.8" r="3.05"/><circle cx="155.7" cy="362.3" r="3.05"/><circle cx="195.6" cy="360.6" r="3.05"/><circle cx="159.6" cy="362.4" r="3.05"/><circle cx="182.8" cy="330.6" r="3.05"/><circle cx="153.5" cy="367.1" r="3.05"/><circle cx="183.8" cy="339.8" r="3.05"/><circle cx="157.8" cy="335.6" r="3.05"/><circle cx="164.0" cy="360.3" r="3.05"/><circle cx="169.3" cy="336.0" r="3.05"/><circle cx="195.5" cy="360.9" r="3.05"/><circle cx="160.9" cy="364.8" r="3.05"/><circle cx="181.6" cy="360.5" r="3.05"/><circle cx="184.4" cy="364.9" r="3.05"/><circle cx="190.0" cy="362.7" r="3.05"/><circle cx="162.3" cy="357.0" r="3.05"/><circle cx="177.9" cy="358.9" r="3.05"/><circle cx="173.6" cy="364.4" r="3.05"/><circle cx="179.1" cy="340.3" r="3.05"/><circle cx="164.0" cy="335.4" r="3.05"/><circle cx="176.2" cy="332.3" r="3.05"/><circle cx="175.0" cy="335.6" r="3.05"/><circle cx="176.1" cy="349.4" r="3.05"/></g>
<g fill="#0cba0c"><circle cx="311.2" cy="494.0" r="3.05"/><circle cx="295.9" cy="374.7" r="3.05"/><circle cx="314.4" cy="377.6" r="3.05"/><circle cx="326.3" cy="382.1" r="3.05"/><circle cx="329.3" cy="381.6" r="3.05"/><circle cx="380.4" cy="371.3" r="3.05"/><circle cx="290.0" cy="385.0" r="3.05"/><circle cx="301.1" cy="393.5" r="3.05"/><circle cx="304.8" cy="391.0" r="3.05"/><circle cx="307.8" cy="389.5" r="3.05"/><circle cx="312.2" cy="388.0" r="3.05"/><circle cx="314.4" cy="387.3" r="3.05"/><circle cx="312.2" cy="394.7" r="3.05"/><circle cx="327.8" cy="395.4" r="3.05"/><circle cx="335.2" cy="392.0" r="3.05"/><circle cx="348.5" cy="391.4" r="3.05"/><circle cx="356.7" cy="393.9" r="3.05"/><circle cx="357.4" cy="397.6" r="3.05"/><circle cx="364.1" cy="396.9" r="3.05"/><circle cx="376.7" cy="393.2" r="3.05"/><circle cx="380.4" cy="393.9" r="3.05"/><circle cx="386.3" cy="388.0" r="3.05"/><circle cx="318.9" cy="399.9" r="3.05"/><circle cx="318.9" cy="404.3" r="3.05"/><circle cx="334.4" cy="399.1" r="3.05"/><circle cx="330.0" cy="404.3" r="3.05"/><circle cx="327.0" cy="407.3" r="3.05"/><circle cx="324.8" cy="409.5" r="3.05"/><circle cx="354.4" cy="403.6" r="3.05"/><circle cx="376.7" cy="401.3" r="3.05"/><circle cx="378.1" cy="405.8" r="3.05"/><circle cx="306.3" cy="407.7" r="3.05"/><circle cx="300.4" cy="411.0" r="3.05"/><circle cx="295.9" cy="415.7" r="3.05"/><circle cx="290.7" cy="413.9" r="3.05"/><circle cx="321.1" cy="413.9" r="3.05"/><circle cx="330.7" cy="413.9" r="3.05"/><circle cx="339.6" cy="410.2" r="3.05"/><circle cx="340.4" cy="413.9" r="3.05"/><circle cx="353.7" cy="413.2" r="3.05"/><circle cx="350.7" cy="417.6" r="3.05"/><circle cx="380.4" cy="411.0" r="3.05"/><circle cx="381.1" cy="418.4" r="3.05"/><circle cx="372.2" cy="419.1" r="3.05"/><circle cx="292.2" cy="421.3" r="3.05"/><circle cx="290.0" cy="424.3" r="3.05"/><circle cx="313.0" cy="420.6" r="3.05"/><circle cx="318.1" cy="421.3" r="3.05"/><circle cx="317.4" cy="425.0" r="3.05"/><circle cx="310.7" cy="426.5" r="3.05"/><circle cx="340.4" cy="424.3" r="3.05"/><circle cx="336.7" cy="425.8" r="3.05"/><circle cx="350.7" cy="427.6" r="3.05"/><circle cx="365.6" cy="429.0" r="3.05"/><circle cx="376.7" cy="427.6" r="3.05"/><circle cx="389.3" cy="427.3" r="3.05"/><circle cx="292.2" cy="431.7" r="3.05"/><circle cx="304.8" cy="429.5" r="3.05"/><circle cx="301.1" cy="433.2" r="3.05"/><circle cx="309.3" cy="431.0" r="3.05"/><circle cx="301.1" cy="436.9" r="3.05"/><circle cx="317.4" cy="434.7" r="3.05"/><circle cx="323.3" cy="436.1" r="3.05"/><circle cx="327.0" cy="437.6" r="3.05"/><circle cx="332.2" cy="435.4" r="3.05"/><circle cx="337.4" cy="433.2" r="3.05"/><circle cx="339.6" cy="438.4" r="3.05"/><circle cx="325.6" cy="439.9" r="3.05"/><circle cx="353.7" cy="439.1" r="3.05"/><circle cx="365.6" cy="439.9" r="3.05"/><circle cx="290.0" cy="448.0" r="3.05"/><circle cx="302.6" cy="445.0" r="3.05"/><circle cx="314.4" cy="443.6" r="3.05"/><circle cx="318.1" cy="443.6" r="3.05"/><circle cx="322.6" cy="450.2" r="3.05"/><circle cx="357.4" cy="451.7" r="3.05"/><circle cx="361.1" cy="451.7" r="3.05"/><circle cx="373.7" cy="448.7" r="3.05"/><circle cx="378.9" cy="448.0" r="3.05"/><circle cx="383.3" cy="449.5" r="3.05"/><circle cx="387.8" cy="442.8" r="3.05"/><circle cx="298.1" cy="459.9" r="3.05"/><circle cx="337.4" cy="455.4" r="3.05"/><circle cx="341.1" cy="462.5" r="3.05"/><circle cx="414.6" cy="372.4" r="3.05"/><circle cx="413.1" cy="376.9" r="3.05"/><circle cx="401.3" cy="377.6" r="3.05"/><circle cx="406.5" cy="382.1" r="3.05"/><circle cx="475.4" cy="374.7" r="3.05"/><circle cx="433.1" cy="379.9" r="3.05"/><circle cx="439.8" cy="382.1" r="3.05"/><circle cx="454.6" cy="381.3" r="3.05"/><circle cx="456.9" cy="385.0" r="3.05"/><circle cx="391.7" cy="386.1" r="3.05"/><circle cx="468.0" cy="388.7" r="3.05"/><circle cx="472.4" cy="389.5" r="3.05"/><circle cx="397.6" cy="393.5" r="3.05"/><circle cx="400.6" cy="394.7" r="3.05"/><circle cx="410.2" cy="395.4" r="3.05"/><circle cx="419.8" cy="395.4" r="3.05"/><circle cx="429.4" cy="391.4" r="3.05"/><circle cx="447.5" cy="394.7" r="3.05"/><circle cx="464.3" cy="393.9" r="3.05"/><circle cx="480.6" cy="394.7" r="3.05"/><circle cx="393.1" cy="399.1" r="3.05"/><circle cx="391.7" cy="401.8" r="3.05"/><circle cx="464.3" cy="402.4" r="3.05"/><circle cx="473.9" cy="399.9" r="3.05"/><circle cx="472.4" cy="402.8" r="3.05"/><circle cx="470.2" cy="405.8" r="3.05"/><circle cx="419.1" cy="407.7" r="3.05"/><circle cx="427.7" cy="407.7" r="3.05"/><circle cx="391.7" cy="419.9" r="3.05"/><circle cx="455.4" cy="418.1" r="3.05"/><circle cx="468.7" cy="420.6" r="3.05"/><circle cx="471.7" cy="424.0" r="3.05"/><circle cx="390.9" cy="427.7" r="3.05"/><circle cx="406.5" cy="424.0" r="3.05"/><circle cx="406.5" cy="429.5" r="3.05"/><circle cx="423.8" cy="427.7" r="3.05"/><circle cx="445.7" cy="428.4" r="3.05"/><circle cx="395.4" cy="434.7" r="3.05"/><circle cx="405.0" cy="435.9" r="3.05"/><circle cx="393.9" cy="437.6" r="3.05"/><circle cx="388.0" cy="441.3" r="3.05"/><circle cx="391.7" cy="442.8" r="3.05"/><circle cx="419.1" cy="444.3" r="3.05"/><circle cx="409.4" cy="446.5" r="3.05"/><circle cx="385.0" cy="449.5" r="3.05"/><circle cx="396.1" cy="449.5" r="3.05"/><circle cx="410.9" cy="454.7" r="3.05"/><circle cx="511.1" cy="400.0" r="3.05"/><circle cx="501.3" cy="413.9" r="3.05"/><circle cx="527.6" cy="403.6" r="3.05"/><circle cx="531.9" cy="399.1" r="3.05"/><circle cx="544.9" cy="388.8" r="3.05"/><circle cx="553.8" cy="396.4" r="3.05"/><circle cx="543.1" cy="406.8" r="3.05"/><circle cx="548.4" cy="405.9" r="3.05"/><circle cx="551.1" cy="419.9" r="3.05"/><circle cx="558.2" cy="419.2" r="3.05"/><circle cx="586.7" cy="384.5" r="3.05"/><circle cx="572.8" cy="442.7" r="3.05"/><circle cx="188.9" cy="466.1" r="3.05"/><circle cx="191.1" cy="461.7" r="3.05"/><circle cx="194.4" cy="452.8" r="3.05"/><circle cx="197.8" cy="456.1" r="3.05"/><circle cx="205.6" cy="456.1" r="3.05"/><circle cx="166.7" cy="459.4" r="3.05"/><circle cx="156.7" cy="458.3" r="3.05"/><circle cx="230.8" cy="464.4" r="3.05"/><circle cx="253.2" cy="456.5" r="3.05"/><circle cx="268.9" cy="454.1" r="3.05"/><circle cx="278.0" cy="457.1" r="3.05"/><circle cx="284.7" cy="454.7" r="3.05"/><circle cx="288.9" cy="448.0" r="3.05"/><circle cx="153.1" cy="494.0" r="3.05"/><circle cx="168.5" cy="494.0" r="3.05"/><circle cx="178.1" cy="494.0" r="3.05"/><circle cx="181.5" cy="494.0" r="3.05"/><circle cx="190.4" cy="494.0" r="3.05"/><circle cx="193.1" cy="494.0" r="3.05"/><circle cx="204.6" cy="494.0" r="3.05"/><circle cx="212.3" cy="494.0" r="3.05"/><circle cx="217.3" cy="494.0" r="3.05"/><circle cx="272.3" cy="494.0" r="3.05"/><circle cx="163.4" cy="391.4" r="3.05"/><circle cx="156.6" cy="394.1" r="3.05"/><circle cx="158.1" cy="410.9" r="3.05"/><circle cx="164.5" cy="445.1" r="3.05"/><circle cx="163.5" cy="374.9" r="3.05"/><circle cx="153.9" cy="433.3" r="3.05"/><circle cx="163.8" cy="413.2" r="3.05"/><circle cx="160.3" cy="373.0" r="3.05"/><circle cx="158.0" cy="451.8" r="3.05"/><circle cx="163.0" cy="445.7" r="3.05"/><circle cx="164.7" cy="394.1" r="3.05"/><circle cx="154.8" cy="386.1" r="3.05"/><circle cx="159.5" cy="431.0" r="3.05"/><circle cx="164.3" cy="434.3" r="3.05"/><circle cx="160.9" cy="438.0" r="3.05"/><circle cx="158.8" cy="419.9" r="3.05"/><circle cx="154.0" cy="439.5" r="3.05"/><circle cx="156.2" cy="451.2" r="3.05"/><circle cx="160.9" cy="398.8" r="3.05"/><circle cx="155.0" cy="394.4" r="3.05"/><circle cx="160.8" cy="432.4" r="3.05"/><circle cx="154.8" cy="379.0" r="3.05"/><circle cx="159.5" cy="422.5" r="3.05"/><circle cx="158.0" cy="392.0" r="3.05"/><circle cx="160.4" cy="373.9" r="3.05"/><circle cx="157.0" cy="412.2" r="3.05"/><circle cx="164.5" cy="427.8" r="3.05"/><circle cx="164.5" cy="432.9" r="3.05"/><circle cx="157.0" cy="374.9" r="3.05"/><circle cx="159.2" cy="430.3" r="3.05"/><circle cx="158.3" cy="394.9" r="3.05"/><circle cx="161.2" cy="451.6" r="3.05"/><circle cx="156.1" cy="375.9" r="3.05"/><circle cx="157.4" cy="408.7" r="3.05"/><circle cx="161.3" cy="389.8" r="3.05"/><circle cx="162.7" cy="435.8" r="3.05"/><circle cx="159.3" cy="390.4" r="3.05"/><circle cx="164.7" cy="399.5" r="3.05"/><circle cx="162.9" cy="392.6" r="3.05"/><circle cx="156.0" cy="437.6" r="3.05"/><circle cx="156.9" cy="453.9" r="3.05"/><circle cx="159.2" cy="388.9" r="3.05"/><circle cx="156.1" cy="408.4" r="3.05"/><circle cx="161.2" cy="453.6" r="3.05"/><circle cx="155.2" cy="406.4" r="3.05"/><circle cx="155.9" cy="455.8" r="3.05"/><circle cx="155.1" cy="377.4" r="3.05"/><circle cx="154.2" cy="406.4" r="3.05"/><circle cx="163.8" cy="448.1" r="3.05"/><circle cx="161.9" cy="457.8" r="3.05"/><circle cx="164.2" cy="401.0" r="3.05"/><circle cx="155.6" cy="452.5" r="3.05"/><circle cx="162.1" cy="375.7" r="3.05"/><circle cx="161.1" cy="405.2" r="3.05"/><circle cx="157.8" cy="401.2" r="3.05"/><circle cx="155.4" cy="373.2" r="3.05"/><circle cx="156.7" cy="402.9" r="3.05"/><circle cx="164.5" cy="383.5" r="3.05"/><circle cx="164.6" cy="390.6" r="3.05"/><circle cx="157.6" cy="442.8" r="3.05"/><circle cx="163.0" cy="409.8" r="3.05"/><circle cx="154.1" cy="413.2" r="3.05"/><circle cx="157.8" cy="451.2" r="3.05"/><circle cx="155.7" cy="404.0" r="3.05"/><circle cx="163.8" cy="375.6" r="3.05"/><circle cx="158.2" cy="442.0" r="3.05"/><circle cx="162.3" cy="376.5" r="3.05"/><circle cx="153.9" cy="378.3" r="3.05"/><circle cx="164.1" cy="394.8" r="3.05"/><circle cx="162.1" cy="449.4" r="3.05"/><circle cx="157.4" cy="396.1" r="3.05"/><circle cx="164.5" cy="425.4" r="3.05"/><circle cx="156.5" cy="433.9" r="3.05"/><circle cx="153.5" cy="437.2" r="3.05"/><circle cx="210.8" cy="421.8" r="3.05"/><circle cx="212.2" cy="374.9" r="3.05"/><circle cx="176.7" cy="409.6" r="3.05"/><circle cx="212.8" cy="446.5" r="3.05"/><circle cx="184.3" cy="392.3" r="3.05"/><circle cx="186.5" cy="411.0" r="3.05"/><circle cx="211.4" cy="387.1" r="3.05"/><circle cx="205.1" cy="429.9" r="3.05"/><circle cx="206.1" cy="432.5" r="3.05"/><circle cx="195.4" cy="398.2" r="3.05"/><circle cx="181.0" cy="400.9" r="3.05"/><circle cx="204.1" cy="379.1" r="3.05"/><circle cx="174.9" cy="431.0" r="3.05"/><circle cx="177.4" cy="378.0" r="3.05"/><circle cx="166.7" cy="415.5" r="3.05"/><circle cx="181.3" cy="448.5" r="3.05"/><circle cx="209.2" cy="449.1" r="3.05"/><circle cx="178.2" cy="379.5" r="3.05"/><circle cx="169.8" cy="411.4" r="3.05"/><circle cx="200.5" cy="407.4" r="3.05"/><circle cx="176.7" cy="405.1" r="3.05"/><circle cx="196.0" cy="424.9" r="3.05"/><circle cx="202.4" cy="438.2" r="3.05"/><circle cx="198.2" cy="382.3" r="3.05"/><circle cx="207.0" cy="395.6" r="3.05"/><circle cx="193.3" cy="401.7" r="3.05"/><circle cx="201.9" cy="388.3" r="3.05"/><circle cx="177.4" cy="391.9" r="3.05"/><circle cx="172.7" cy="441.1" r="3.05"/><circle cx="193.9" cy="398.1" r="3.05"/><circle cx="184.8" cy="449.4" r="3.05"/><circle cx="190.4" cy="390.8" r="3.05"/><circle cx="205.4" cy="423.3" r="3.05"/><circle cx="214.5" cy="380.9" r="3.05"/><circle cx="188.7" cy="436.1" r="3.05"/><circle cx="207.0" cy="443.4" r="3.05"/><circle cx="167.0" cy="395.6" r="3.05"/><circle cx="171.0" cy="387.6" r="3.05"/><circle cx="213.6" cy="417.9" r="3.05"/><circle cx="211.5" cy="401.7" r="3.05"/><circle cx="208.3" cy="407.6" r="3.05"/><circle cx="178.0" cy="432.9" r="3.05"/><circle cx="212.3" cy="381.1" r="3.05"/><circle cx="194.8" cy="420.7" r="3.05"/><circle cx="175.9" cy="401.4" r="3.05"/><circle cx="172.1" cy="388.7" r="3.05"/><circle cx="177.7" cy="419.2" r="3.05"/><circle cx="197.6" cy="388.7" r="3.05"/><circle cx="165.6" cy="398.2" r="3.05"/><circle cx="198.9" cy="387.3" r="3.05"/><circle cx="180.6" cy="388.7" r="3.05"/><circle cx="204.8" cy="415.2" r="3.05"/><circle cx="168.2" cy="380.8" r="3.05"/><circle cx="184.8" cy="415.4" r="3.05"/><circle cx="197.0" cy="380.0" r="3.05"/><circle cx="173.2" cy="426.5" r="3.05"/><circle cx="185.5" cy="394.8" r="3.05"/><circle cx="180.4" cy="446.4" r="3.05"/><circle cx="180.6" cy="416.6" r="3.05"/><circle cx="182.9" cy="405.1" r="3.05"/><circle cx="208.2" cy="449.7" r="3.05"/><circle cx="183.2" cy="388.2" r="3.05"/><circle cx="201.4" cy="388.7" r="3.05"/><circle cx="165.3" cy="442.4" r="3.05"/><circle cx="186.2" cy="436.2" r="3.05"/><circle cx="185.3" cy="441.0" r="3.05"/><circle cx="188.0" cy="385.5" r="3.05"/><circle cx="165.7" cy="415.5" r="3.05"/><circle cx="197.0" cy="443.1" r="3.05"/><circle cx="169.5" cy="420.9" r="3.05"/><circle cx="183.5" cy="411.8" r="3.05"/><circle cx="172.3" cy="394.8" r="3.05"/><circle cx="191.1" cy="444.3" r="3.05"/><circle cx="170.4" cy="410.8" r="3.05"/><circle cx="205.2" cy="447.4" r="3.05"/><circle cx="174.9" cy="382.8" r="3.05"/><circle cx="212.2" cy="448.1" r="3.05"/><circle cx="189.1" cy="377.1" r="3.05"/><circle cx="211.3" cy="402.9" r="3.05"/><circle cx="210.2" cy="420.8" r="3.05"/><circle cx="206.2" cy="385.3" r="3.05"/><circle cx="204.3" cy="390.1" r="3.05"/><circle cx="185.2" cy="438.2" r="3.05"/><circle cx="206.5" cy="387.1" r="3.05"/><circle cx="175.9" cy="403.8" r="3.05"/><circle cx="190.9" cy="402.5" r="3.05"/><circle cx="171.2" cy="392.0" r="3.05"/><circle cx="201.2" cy="442.1" r="3.05"/><circle cx="167.1" cy="416.3" r="3.05"/><circle cx="202.9" cy="375.9" r="3.05"/><circle cx="206.9" cy="382.1" r="3.05"/><circle cx="195.0" cy="415.4" r="3.05"/><circle cx="196.4" cy="396.6" r="3.05"/><circle cx="186.0" cy="417.9" r="3.05"/><circle cx="186.3" cy="423.7" r="3.05"/><circle cx="187.3" cy="406.8" r="3.05"/><circle cx="166.2" cy="420.7" r="3.05"/><circle cx="189.5" cy="391.1" r="3.05"/><circle cx="203.2" cy="433.1" r="3.05"/><circle cx="187.9" cy="386.8" r="3.05"/><circle cx="188.7" cy="381.2" r="3.05"/><circle cx="171.4" cy="406.2" r="3.05"/><circle cx="169.6" cy="407.0" r="3.05"/><circle cx="190.5" cy="376.1" r="3.05"/><circle cx="196.8" cy="379.3" r="3.05"/><circle cx="201.7" cy="432.9" r="3.05"/><circle cx="190.6" cy="377.2" r="3.05"/><circle cx="190.2" cy="402.1" r="3.05"/><circle cx="212.5" cy="383.5" r="3.05"/><circle cx="201.6" cy="435.8" r="3.05"/><circle cx="174.7" cy="448.6" r="3.05"/><circle cx="189.6" cy="446.7" r="3.05"/><circle cx="210.8" cy="385.7" r="3.05"/><circle cx="204.4" cy="444.7" r="3.05"/><circle cx="168.3" cy="400.0" r="3.05"/><circle cx="202.8" cy="385.2" r="3.05"/><circle cx="209.8" cy="394.2" r="3.05"/><circle cx="205.8" cy="384.1" r="3.05"/><circle cx="190.1" cy="443.8" r="3.05"/><circle cx="175.4" cy="393.2" r="3.05"/><circle cx="190.3" cy="397.6" r="3.05"/><circle cx="166.8" cy="387.0" r="3.05"/><circle cx="173.1" cy="445.1" r="3.05"/><circle cx="199.0" cy="441.9" r="3.05"/><circle cx="173.4" cy="433.4" r="3.05"/><circle cx="170.8" cy="413.9" r="3.05"/><circle cx="196.8" cy="400.7" r="3.05"/><circle cx="208.6" cy="415.7" r="3.05"/><circle cx="194.0" cy="441.0" r="3.05"/><circle cx="170.2" cy="449.5" r="3.05"/><circle cx="196.5" cy="403.4" r="3.05"/><circle cx="204.9" cy="393.4" r="3.05"/><circle cx="214.5" cy="417.5" r="3.05"/><circle cx="183.0" cy="431.9" r="3.05"/><circle cx="187.1" cy="386.6" r="3.05"/><circle cx="202.2" cy="376.7" r="3.05"/><circle cx="206.0" cy="392.5" r="3.05"/><circle cx="197.0" cy="448.8" r="3.05"/><circle cx="194.3" cy="424.1" r="3.05"/><circle cx="180.6" cy="373.1" r="3.05"/><circle cx="166.7" cy="384.5" r="3.05"/><circle cx="195.8" cy="406.3" r="3.05"/><circle cx="190.6" cy="442.0" r="3.05"/><circle cx="171.6" cy="390.5" r="3.05"/><circle cx="197.7" cy="374.7" r="3.05"/><circle cx="165.1" cy="400.3" r="3.05"/><circle cx="170.3" cy="400.5" r="3.05"/><circle cx="176.2" cy="417.9" r="3.05"/><circle cx="194.5" cy="388.7" r="3.05"/><circle cx="196.2" cy="409.6" r="3.05"/><circle cx="171.7" cy="445.1" r="3.05"/><circle cx="177.2" cy="384.5" r="3.05"/><circle cx="169.8" cy="422.1" r="3.05"/><circle cx="208.6" cy="433.2" r="3.05"/><circle cx="185.1" cy="393.3" r="3.05"/><circle cx="165.6" cy="422.7" r="3.05"/><circle cx="193.1" cy="400.0" r="3.05"/><circle cx="197.3" cy="407.2" r="3.05"/><circle cx="255.3" cy="430.9" r="3.05"/><circle cx="225.7" cy="444.4" r="3.05"/><circle cx="216.9" cy="415.0" r="3.05"/><circle cx="232.5" cy="391.8" r="3.05"/><circle cx="217.5" cy="434.5" r="3.05"/><circle cx="215.5" cy="416.5" r="3.05"/><circle cx="255.5" cy="384.2" r="3.05"/><circle cx="223.6" cy="421.0" r="3.05"/><circle cx="236.8" cy="423.7" r="3.05"/><circle cx="250.0" cy="386.8" r="3.05"/><circle cx="228.3" cy="396.7" r="3.05"/><circle cx="217.1" cy="443.3" r="3.05"/><circle cx="248.7" cy="429.5" r="3.05"/><circle cx="215.3" cy="439.7" r="3.05"/><circle cx="247.0" cy="409.8" r="3.05"/><circle cx="246.9" cy="408.7" r="3.05"/><circle cx="224.7" cy="381.3" r="3.05"/><circle cx="225.0" cy="376.1" r="3.05"/><circle cx="229.4" cy="432.2" r="3.05"/><circle cx="244.9" cy="439.8" r="3.05"/><circle cx="245.6" cy="394.0" r="3.05"/><circle cx="238.8" cy="407.4" r="3.05"/><circle cx="248.9" cy="414.3" r="3.05"/><circle cx="226.4" cy="423.7" r="3.05"/><circle cx="256.5" cy="390.1" r="3.05"/><circle cx="252.8" cy="374.2" r="3.05"/><circle cx="226.2" cy="391.7" r="3.05"/><circle cx="247.0" cy="447.6" r="3.05"/><circle cx="247.1" cy="398.8" r="3.05"/><circle cx="252.8" cy="399.0" r="3.05"/><circle cx="225.3" cy="444.7" r="3.05"/><circle cx="242.1" cy="427.7" r="3.05"/><circle cx="243.6" cy="450.3" r="3.05"/><circle cx="235.2" cy="439.3" r="3.05"/><circle cx="245.0" cy="440.7" r="3.05"/><circle cx="233.8" cy="430.2" r="3.05"/><circle cx="239.5" cy="397.3" r="3.05"/><circle cx="224.1" cy="422.2" r="3.05"/><circle cx="218.3" cy="445.0" r="3.05"/><circle cx="221.2" cy="375.1" r="3.05"/><circle cx="219.6" cy="446.4" r="3.05"/><circle cx="229.8" cy="384.2" r="3.05"/><circle cx="216.2" cy="376.3" r="3.05"/><circle cx="244.8" cy="423.1" r="3.05"/><circle cx="245.0" cy="431.2" r="3.05"/><circle cx="217.8" cy="419.6" r="3.05"/><circle cx="230.6" cy="437.6" r="3.05"/><circle cx="250.2" cy="443.4" r="3.05"/><circle cx="217.8" cy="441.6" r="3.05"/><circle cx="254.3" cy="447.6" r="3.05"/><circle cx="219.6" cy="389.3" r="3.05"/><circle cx="219.8" cy="375.7" r="3.05"/><circle cx="251.5" cy="437.1" r="3.05"/><circle cx="242.3" cy="438.2" r="3.05"/><circle cx="242.2" cy="395.7" r="3.05"/><circle cx="219.3" cy="380.7" r="3.05"/><circle cx="247.6" cy="389.2" r="3.05"/><circle cx="228.7" cy="406.5" r="3.05"/><circle cx="215.9" cy="393.3" r="3.05"/><circle cx="227.2" cy="429.5" r="3.05"/><circle cx="230.8" cy="398.3" r="3.05"/><circle cx="256.5" cy="412.8" r="3.05"/><circle cx="251.6" cy="421.8" r="3.05"/><circle cx="216.3" cy="405.6" r="3.05"/><circle cx="233.8" cy="434.1" r="3.05"/><circle cx="229.9" cy="428.7" r="3.05"/><circle cx="238.1" cy="390.1" r="3.05"/><circle cx="252.1" cy="380.2" r="3.05"/><circle cx="215.1" cy="389.0" r="3.05"/><circle cx="247.8" cy="450.3" r="3.05"/><circle cx="215.2" cy="411.8" r="3.05"/><circle cx="236.1" cy="435.9" r="3.05"/><circle cx="222.9" cy="412.1" r="3.05"/><circle cx="229.9" cy="438.7" r="3.05"/><circle cx="226.2" cy="447.6" r="3.05"/><circle cx="227.2" cy="390.0" r="3.05"/><circle cx="245.1" cy="412.4" r="3.05"/><circle cx="219.7" cy="423.3" r="3.05"/><circle cx="218.5" cy="435.2" r="3.05"/><circle cx="245.0" cy="435.2" r="3.05"/><circle cx="242.0" cy="401.1" r="3.05"/><circle cx="232.3" cy="404.2" r="3.05"/><circle cx="253.3" cy="379.8" r="3.05"/><circle cx="253.2" cy="375.0" r="3.05"/><circle cx="223.9" cy="393.8" r="3.05"/><circle cx="253.8" cy="412.6" r="3.05"/><circle cx="231.3" cy="442.8" r="3.05"/><circle cx="225.0" cy="409.4" r="3.05"/><circle cx="237.9" cy="432.6" r="3.05"/><circle cx="247.4" cy="424.1" r="3.05"/><circle cx="230.0" cy="398.8" r="3.05"/><circle cx="221.7" cy="439.6" r="3.05"/><circle cx="279.2" cy="433.8" r="3.05"/><circle cx="263.4" cy="409.0" r="3.05"/><circle cx="282.7" cy="420.5" r="3.05"/><circle cx="262.0" cy="410.9" r="3.05"/><circle cx="286.3" cy="392.5" r="3.05"/><circle cx="264.1" cy="397.7" r="3.05"/><circle cx="280.5" cy="442.2" r="3.05"/><circle cx="262.9" cy="385.8" r="3.05"/><circle cx="265.9" cy="399.8" r="3.05"/><circle cx="274.7" cy="386.2" r="3.05"/><circle cx="268.5" cy="388.5" r="3.05"/><circle cx="289.2" cy="432.8" r="3.05"/><circle cx="261.3" cy="451.9" r="3.05"/><circle cx="261.3" cy="404.5" r="3.05"/><circle cx="289.5" cy="438.2" r="3.05"/><circle cx="281.5" cy="408.7" r="3.05"/><circle cx="264.3" cy="425.3" r="3.05"/><circle cx="261.4" cy="389.9" r="3.05"/><circle cx="270.4" cy="375.8" r="3.05"/><circle cx="270.8" cy="437.9" r="3.05"/><circle cx="280.2" cy="414.0" r="3.05"/><circle cx="278.2" cy="411.0" r="3.05"/><circle cx="262.5" cy="422.5" r="3.05"/><circle cx="271.0" cy="433.8" r="3.05"/><circle cx="287.1" cy="408.3" r="3.05"/><circle cx="276.4" cy="434.4" r="3.05"/><circle cx="271.5" cy="391.7" r="3.05"/><circle cx="281.1" cy="445.2" r="3.05"/><circle cx="282.8" cy="430.4" r="3.05"/><circle cx="285.3" cy="428.7" r="3.05"/><circle cx="278.5" cy="410.2" r="3.05"/><circle cx="268.0" cy="424.5" r="3.05"/><circle cx="261.1" cy="407.4" r="3.05"/><circle cx="283.0" cy="431.5" r="3.05"/><circle cx="278.1" cy="393.5" r="3.05"/><circle cx="271.6" cy="410.3" r="3.05"/><circle cx="277.9" cy="406.6" r="3.05"/><circle cx="279.6" cy="449.3" r="3.05"/><circle cx="263.9" cy="426.7" r="3.05"/><circle cx="282.9" cy="404.9" r="3.05"/><circle cx="273.7" cy="452.9" r="3.05"/><circle cx="259.2" cy="417.6" r="3.05"/><circle cx="263.1" cy="437.1" r="3.05"/><circle cx="288.1" cy="415.6" r="3.05"/><circle cx="261.2" cy="420.1" r="3.05"/><circle cx="275.3" cy="431.8" r="3.05"/><circle cx="274.4" cy="425.4" r="3.05"/><circle cx="284.5" cy="415.8" r="3.05"/><circle cx="271.1" cy="450.7" r="3.05"/><circle cx="154.2" cy="432.0" r="3.05"/><circle cx="154.7" cy="438.7" r="3.05"/><circle cx="154.0" cy="457.7" r="3.05"/><circle cx="154.6" cy="378.3" r="3.05"/><circle cx="154.4" cy="407.7" r="3.05"/><circle cx="153.6" cy="409.3" r="3.05"/><circle cx="154.8" cy="433.2" r="3.05"/><circle cx="154.6" cy="396.2" r="3.05"/><circle cx="154.3" cy="436.9" r="3.05"/><circle cx="156.3" cy="418.6" r="3.05"/><circle cx="154.2" cy="442.0" r="3.05"/><circle cx="154.7" cy="391.6" r="3.05"/><circle cx="155.9" cy="427.7" r="3.05"/><circle cx="155.0" cy="421.6" r="3.05"/><circle cx="154.3" cy="455.9" r="3.05"/><circle cx="154.6" cy="428.1" r="3.05"/><circle cx="156.0" cy="443.3" r="3.05"/><circle cx="155.0" cy="398.7" r="3.05"/><circle cx="155.2" cy="384.2" r="3.05"/><circle cx="156.1" cy="396.4" r="3.05"/><circle cx="154.7" cy="395.2" r="3.05"/><circle cx="154.8" cy="389.4" r="3.05"/><circle cx="153.6" cy="435.2" r="3.05"/><circle cx="154.4" cy="394.4" r="3.05"/><circle cx="154.5" cy="414.5" r="3.05"/><circle cx="155.5" cy="404.5" r="3.05"/><circle cx="156.3" cy="446.6" r="3.05"/></g>
</g>
<line x1="29" y1="371.4" x2="648.9" y2="371.4" stroke="#4a4a4a" stroke-width="1.4"/>
<g font-size="14.5" fill="#333">
<text x="4" y="11.2">0.8</text>
<text x="3.5" y="375.3">0.2</text>
<text x="23.5" y="514.3">0</text>
<text x="142.5" y="514.3">0.2</text>
<text x="643" y="514.3">1</text>
</g>
<text x="257" y="514.3" font-size="15" fill="#333">sensory ITC value of an IC</text>
<text transform="translate(12.3,268) rotate(-90)" font-size="15" fill="#333">motor ITC value of an IC</text>
<text x="41" y="21" font-size="20.5" font-weight="bold" fill="#000">A</text>
<text transform="translate(483,25) rotate(-45)" font-size="15" fill="#888" text-anchor="middle" dy="5">X=Y</text>
<g font-size="14.7" fill="#111">
<circle cx="513.7" cy="58.3" r="4" fill="#f02a10"/>
<circle cx="513.7" cy="75.9" r="4" fill="#6cc41c"/>
<circle cx="513.7" cy="93.7" r="4" fill="#1a2af0"/>
<circle cx="513.7" cy="111.6" r="4" fill="#000"/>
<text x="528.8" y="63.3">Sensorimotor ICs</text>
<text x="528.8" y="81.1">Sensory ICs</text>
<text x="528.8" y="98.7">Motor ICs</text>
<text x="528.8" y="116.3">Unspecified ICs</text>
</g>
<g id="B">
<line x1="32.2" y1="535.2" x2="32.2" y2="823.5" stroke="#7a7a7a" stroke-width="1.5"/>
<line x1="31.3" y1="823.5" x2="474" y2="823.5" stroke="#888" stroke-width="1.5"/>
<line x1="32" y1="602.0" x2="37" y2="602.0" stroke="#888" stroke-width="1.3"/>
<line x1="32" y1="712.8" x2="37" y2="712.8" stroke="#888" stroke-width="1.3"/>
<line x1="33" y1="694.8" x2="639" y2="694.8" stroke="#999" stroke-width="1.1" stroke-dasharray="1.2,3.24"/>
<line x1="152.6" y1="500" x2="152.6" y2="823" stroke="#999" stroke-width="1.1" stroke-dasharray="1.2,3.24"/>
<polyline points="32.0,812.0 51.4,803.0 68.4,774.6 85.4,739.0 99.6,708.6 107.1,690.0 124.2,661.2 139.4,646.0 152.5,640.5 166.6,644.0 181.8,649.8 197.0,645.4 210.3,648.8 223.7,659.3 238.9,676.4 250.0,691.6 267.9,703.2 285.7,719.3 305.4,738.5 326.8,752.0 350.0,760.4 369.6,771.0 395.7,780.0 422.5,788.9 442.0,796.0 470.7,803.2" fill="none" stroke="#10b810" stroke-width="3.6" stroke-linejoin="round" stroke-linecap="butt" stroke-dasharray="2.8,2.9"/>
<polyline points="32.0,813.0 53.2,789.0 65.7,755.0 78.2,714.0 89.0,685.0 101.4,644.0 114.7,623.2 126.1,602.2 139.4,576.6 150.5,579.8 166.6,600.3 181.8,611.7 197.0,625.0 208.4,636.5 221.7,643.0 229.4,649.8 259.8,680.2 280.4,709.5 303.6,727.3 320.0,742.0 340.0,753.0 360.0,765.0 370.7,772.0 395.7,780.0 422.5,788.9 442.0,796.0 470.7,803.2" fill="none" stroke="#10b810" stroke-width="3.6" stroke-linejoin="round" stroke-linecap="butt" stroke-dasharray="9,3"/>
<polyline points="32.0,812.0 47.0,792.5 62.1,758.6 72.9,715.7 81.8,689.0 90.0,661.0 101.4,630.8 112.8,606.0 123.3,585.1 137.5,570.0 152.5,567.5 166.6,587.0 182.8,607.0 197.0,608.0 213.2,620.3 226.5,644.0 242.7,663.0 259.8,678.3 273.2,697.9 289.3,710.4 303.6,722.9 317.9,738.9 333.9,750.5 353.6,760.4 377.9,768.4 395.7,774.6 422.5,781.8 436.8,787.0 449.3,796.0 470.7,803.2" fill="none" stroke="#10b810" stroke-width="3.7" stroke-linejoin="round" stroke-linecap="butt"/>
<polyline points="32.0,823.0 74.6,822.0 92.5,817.5 110.4,801.4 122.9,783.6 137.0,762.0 149.6,737.0 157.9,722.9 176.1,688.7 189.4,670.7 204.6,651.7 218.0,632.7 228.8,606.0 238.5,586.0 243.6,577.5 252.1,568.4 260.2,554.2 271.3,535.0" fill="none" stroke="#000" stroke-width="2.5" stroke-linejoin="round" stroke-linecap="butt" stroke-dasharray="1.9,1.9"/>
<polyline points="32.0,823.0 71.0,821.0 99.6,799.6 117.5,767.5 133.6,731.8 149.6,697.8 153.3,687.8 164.7,647.9 178.0,617.5 185.6,600.3 198.9,568.0 216.0,535.7" fill="none" stroke="#000" stroke-width="2.6" stroke-linejoin="round" stroke-linecap="butt" stroke-dasharray="5,1.8"/>
<polyline points="32.0,823.0 53.0,819.0 74.6,804.0 92.5,787.0 106.8,762.0 122.9,731.8 131.8,703.0 140.0,686.0 153.3,655.5 160.9,630.8 170.4,606.0 182.8,575.6 192.3,558.5 206.5,534.8" fill="none" stroke="#000" stroke-width="2.5" stroke-linejoin="round" stroke-linecap="butt"/>
<polyline points="32.0,823.0 65.7,815.7 88.9,805.0 110.4,794.3 130.0,787.0 150.0,782.7 156.0,781.8 170.4,778.2 190.0,780.0 207.9,783.6 225.7,789.0 243.6,792.5 250.0,793.0 276.8,801.4 303.6,807.7 330.4,811.2 369.6,814.0 400.0,817.0 470.7,821.0" fill="none" stroke="#3a3af4" stroke-width="3.6" stroke-linejoin="round" stroke-linecap="butt" stroke-dasharray="2.8,2.9"/>
<polyline points="32.0,822.8 60.0,816.0 80.0,805.0 101.4,787.0 124.6,769.3 150.7,769.3 168.6,761.3 186.4,765.7 207.9,771.0 227.5,774.6 243.6,781.8 253.6,784.1 271.4,789.0 294.6,797.9 317.9,803.2 339.3,809.5 369.6,812.0 400.0,815.0 470.7,820.5" fill="none" stroke="#3a3af4" stroke-width="3.6" stroke-linejoin="round" stroke-linecap="butt" stroke-dasharray="9,3"/>
<polyline points="32.0,822.8 47.9,821.0 63.9,812.0 83.6,801.4 101.4,789.8 122.9,774.6 131.8,776.4 144.3,772.9 152.5,771.0 166.8,762.0 181.0,764.0 198.9,756.8 213.2,753.2 227.5,765.7 243.6,772.0 252.0,775.0 267.9,780.0 289.3,788.0 303.6,797.9 321.4,803.2 335.7,806.8 350.0,807.0 369.6,810.4 377.9,812.0 395.7,813.0 413.6,817.5 431.4,819.3 470.7,820.2" fill="none" stroke="#3a3af4" stroke-width="3.7" stroke-linejoin="round" stroke-linecap="butt"/>
<polyline points="100.5,535.7 109.0,564.2 116.6,590.8 121.0,602.0 127.1,621.3 135.6,653.6 143.2,672.6 150.8,687.8 152.5,694.3 161.4,715.7 170.4,728.2 182.9,742.5 188.2,753.2 198.9,765.7 218.6,783.6 240.0,794.3 250.0,799.6 271.4,806.8 303.6,812.0 339.3,817.5 370.0,819.3 471.0,821.5" fill="none" stroke="#f62204" stroke-width="3.6" stroke-linejoin="round" stroke-linecap="butt" stroke-dasharray="2.8,2.9"/>
<polyline points="112.0,535.0 116.3,564.2 121.5,594.6 127.5,621.3 135.6,653.6 143.2,672.6 150.8,687.8 152.5,694.3 161.4,715.7 170.4,728.2 182.9,742.5 186.4,755.0 216.8,789.8 240.0,803.2 250.0,807.0 267.9,812.0 287.5,818.4 321.4,821.0 370.0,822.5 471.0,822.5" fill="none" stroke="#f62204" stroke-width="3.6" stroke-linejoin="round" stroke-linecap="butt" stroke-dasharray="9,3"/>
<polyline points="110.0,534.8 114.7,564.2 120.4,594.6 127.1,621.3 135.6,653.6 143.2,672.6 150.8,687.8 152.5,694.3 161.4,715.7 170.4,728.2 182.9,742.5 193.6,764.0 202.5,780.0 213.2,794.3 225.7,799.6 243.6,806.8 250.0,811.2 258.9,815.7 282.0,822.0 471.0,822.8" fill="none" stroke="#f62204" stroke-width="3.9" stroke-linejoin="round" stroke-linecap="butt"/>
</g>
<g font-size="14.3" fill="#333">
<text x="13" y="606.4">10</text>
<text x="20.3" y="718">5</text>
<text x="20.2" y="822.9">0</text>
<text x="30" y="840.3">0.05</text>
<text x="141.8" y="840.3">0.2</text>
<text x="447" y="840.3">0.6</text>
</g>
<text x="254.5" y="840.3" font-size="14.8" fill="#333">ITC threshold</text>
<text transform="translate(11.3,821.5) rotate(-90)" font-size="14.8" fill="#333">mean number of ICs per session</text>
<text x="39.3" y="551.9" font-size="20.5" font-weight="bold" fill="#000">B</text>
<g id="C">
<line x1="639" y1="536" x2="639" y2="824.2" stroke="#888" stroke-width="1.8"/>
<line x1="474.3" y1="823.5" x2="639.7" y2="823.5" stroke="#888" stroke-width="1.5"/>
<line x1="635.5" y1="602.0" x2="639" y2="602.0" stroke="#555" stroke-width="1.1"/>
<line x1="635.5" y1="712.6" x2="639" y2="712.6" stroke="#555" stroke-width="1.1"/>
<line x1="501.8" y1="819.5" x2="501.8" y2="823.5" stroke="#888" stroke-width="1.3"/>
<line x1="556.3" y1="819.5" x2="556.3" y2="823.5" stroke="#888" stroke-width="1.3"/>
<line x1="611.8" y1="819.5" x2="611.8" y2="823.5" stroke="#888" stroke-width="1.3"/>
<path d="M501.8,535.9V599.9M498.6,535.9H505.0M498.6,599.9H505.0" stroke="#10b810" stroke-width="1.6" fill="none"/>
<path d="M556.3,561.5V598M553.0999999999999,561.5H559.5M553.0999999999999,598H559.5" stroke="#10b810" stroke-width="1.6" fill="none"/>
<path d="M611.8,626V656.1M608.5999999999999,626H615.0M608.5999999999999,656.1H615.0" stroke="#10b810" stroke-width="1.6" fill="none"/>
<polyline points="501.8,568.4 556.3,579.3 611.8,640.9" fill="none" stroke="#10b810" stroke-width="3.4" stroke-linejoin="round"/>
<circle cx="501.8" cy="568.4" r="4.2" fill="#10b810"/>
<circle cx="556.3" cy="579.3" r="4.2" fill="#10b810"/>
<circle cx="611.8" cy="640.9" r="4.2" fill="#10b810"/>
<path d="M501.8,634.7V677M498.6,634.7H505.0M498.6,677H505.0" stroke="#000" stroke-width="1.6" fill="none"/>
<path d="M556.3,677.4V709M553.0999999999999,677.4H559.5M553.0999999999999,709H559.5" stroke="#000" stroke-width="1.6" fill="none"/>
<path d="M611.8,723.5V744.8M608.5999999999999,723.5H615.0M608.5999999999999,744.8H615.0" stroke="#000" stroke-width="1.6" fill="none"/>
<polyline points="501.8,657.3 556.3,693.5 611.8,733.9" fill="none" stroke="#000" stroke-width="3.4" stroke-linejoin="round"/>
<circle cx="501.8" cy="657.3" r="4.2" fill="#000"/>
<circle cx="556.3" cy="693.5" r="4.2" fill="#000"/>
<circle cx="611.8" cy="733.9" r="4.2" fill="#000"/>
<path d="M501.8,676.6V713.3M498.6,676.6H505.0M498.6,713.3H505.0" stroke="#f62204" stroke-width="1.6" fill="none"/>
<path d="M556.3,680.7V709.2M553.0999999999999,680.7H559.5M553.0999999999999,709.2H559.5" stroke="#f62204" stroke-width="1.6" fill="none"/>
<path d="M611.8,682.5V707.9M608.5999999999999,682.5H615.0M608.5999999999999,707.9H615.0" stroke="#f62204" stroke-width="1.6" fill="none"/>
<polyline points="501.8,695.1 556.3,695.1 611.8,695.1" fill="none" stroke="#f62204" stroke-width="3.4" stroke-linejoin="round"/>
<circle cx="501.8" cy="695.1" r="4.2" fill="#f62204"/>
<circle cx="556.3" cy="695.1" r="4.2" fill="#f62204"/>
<circle cx="611.8" cy="695.1" r="4.2" fill="#f62204"/>
<path d="M501.8,760V781.3M498.6,760H505.0M498.6,781.3H505.0" stroke="#3a3af4" stroke-width="1.6" fill="none"/>
<path d="M556.3,759.5V778.5M553.0999999999999,759.5H559.5M553.0999999999999,778.5H559.5" stroke="#3a3af4" stroke-width="1.6" fill="none"/>
<path d="M611.8,775.6V789.9M608.5999999999999,775.6H615.0M608.5999999999999,789.9H615.0" stroke="#3a3af4" stroke-width="1.6" fill="none"/>
<polyline points="501.8,769.7 556.3,769 611.8,783.2" fill="none" stroke="#3a3af4" stroke-width="3.4" stroke-linejoin="round"/>
<circle cx="501.8" cy="769.7" r="4.2" fill="#3a3af4"/>
<circle cx="556.3" cy="769" r="4.2" fill="#3a3af4"/>
<circle cx="611.8" cy="783.2" r="4.2" fill="#3a3af4"/>
</g>
<g font-size="14.3" fill="#333">
<text x="641.8" y="606.3">10</text>
<text x="642.8" y="718">5</text>
<text x="642.8" y="822.9">0</text>
<text x="490.5" y="840.6">127 ch.</text>
<text x="549.7" y="840.6">64 ch.</text>
<text x="602.5" y="840.6">32 ch.</text>
</g>
<text transform="translate(670.8,821.5) rotate(-90)" font-size="14.8" fill="#333">mean number of ICs per session (ITC=0.2)</text>
<text x="467.6" y="552.2" font-size="20.5" font-weight="bold" fill="#000">C</text>
</svg>
</body></html>
